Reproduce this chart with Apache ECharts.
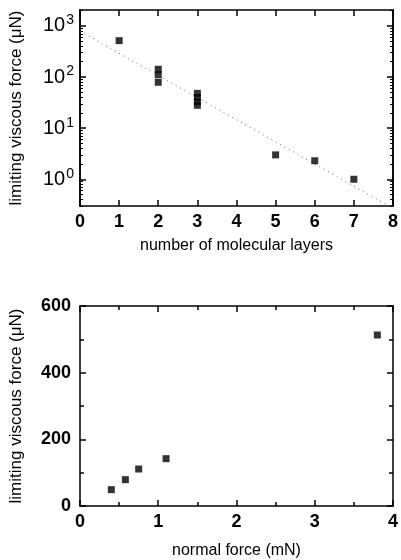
<!DOCTYPE html>
<html>
<head>
<meta charset="utf-8">
<script src="https://cdn.jsdelivr.net/npm/echarts@6/dist/echarts.min.js"></script>
<style>
  html, body { margin: 0; padding: 0; background: #fff; }
  #chart { width: 401px; height: 560px; }
</style>
</head>
<body>
<div id="chart"></div>
<script>
// top panel: viscous force vs number of layers (log scale)
const layerPoints = [
  [1, 515],
  [2, 142], [2, 111], [2, 79],
  [3, 48], [3, 40], [3, 33], [3, 28],
  [5, 3.0],
  [6, 2.3],
  [7, 1.0]
]
const fitLine = [[0, 790], [8, 0.27]]
const layerTicks = [0, 1, 2, 3, 4, 5, 6, 7, 8]
const decadeTicks = [1, 10, 100, 1000]
const logMinorTicks = [
  0.3, 0.4, 0.5, 0.6, 0.7, 0.8, 0.9,
  2, 3, 4, 5, 6, 7, 8, 9,
  20, 30, 40, 50, 60, 70, 80, 90,
  200, 300, 400, 500, 600, 700, 800, 900,
  2000
]

// bottom panel: viscous force vs normal force
const normalForcePoints = [
  [0.4, 49], [0.58, 79], [0.75, 111], [1.1, 142], [3.8, 513]
]

const font = 'Liberation Sans, Arial, sans-serif'
const lineStyle = { color: '#000', width: 1.5 }
const tickLabel = { color: '#000', fontSize: 18, fontWeight: 'bold', fontFamily: font }
const xNameStyle = { color: '#000', fontSize: 16, fontFamily: font }
const yNameStyle = { color: '#000', fontSize: 17, fontFamily: font }

const chart = echarts.init(document.getElementById('chart'))

function sup(v) {
  const e = Math.round(Math.log10(v))
  return '{b|10}{s|' + e + '}'
}

// mirrored axis with ticks only (used for top / right edges and minor ticks)
function plainY(gridIndex, pos, extra) {
  return Object.assign({
    gridIndex, position: pos,
    axisLine: { show: true, onZero: false, lineStyle },
    axisLabel: { show: false },
    splitLine: { show: false }
  }, extra)
}

chart.setOption({
  animation: false,
  grid: [
    { left: 78, right: 5, top: 10, height: 196 },
    { left: 78, right: 5, top: 306, height: 203 }
  ],
  xAxis: [
    {
      gridIndex: 0, type: 'value', min: 0, max: 8, interval: 1, position: 'bottom',
      name: 'number of molecular layers', nameLocation: 'middle', nameGap: 32,
      nameTextStyle: xNameStyle,
      axisLine: { onZero: false, lineStyle },
      axisTick: { inside: true, length: 6, lineStyle },
      axisLabel: Object.assign({ margin: 7, customValues: layerTicks }, tickLabel),
      splitLine: { show: false }
    },
    {
      gridIndex: 0, type: 'value', min: 0, max: 8, interval: 1, position: 'top',
      axisLine: { onZero: false, lineStyle },
      axisTick: { inside: true, length: 6, lineStyle },
      axisLabel: { show: false },
      splitLine: { show: false }
    },
    {
      gridIndex: 1, type: 'value', min: 0, max: 4, interval: 1, position: 'bottom',
      name: 'normal force (mN)', nameLocation: 'middle', nameGap: 37,
      nameTextStyle: xNameStyle,
      axisLine: { onZero: false, lineStyle },
      axisTick: { inside: true, length: 6, lineStyle },
      minorTick: { show: true, splitNumber: 2, length: 4, lineStyle },
      axisLabel: Object.assign({ margin: 7 }, tickLabel),
      splitLine: { show: false }
    },
    {
      gridIndex: 1, type: 'value', min: 0, max: 4, interval: 1, position: 'top',
      axisLine: { onZero: false, lineStyle },
      axisTick: { inside: true, length: 6, lineStyle },
      minorTick: { show: true, splitNumber: 2, length: 4, lineStyle },
      axisLabel: { show: false },
      splitLine: { show: false }
    }
  ],
  yAxis: [
    {
      gridIndex: 0, type: 'log', logBase: 10, min: 0.3, max: 2050, position: 'left',
      name: 'limiting viscous force (\u03bcN)', nameLocation: 'middle', nameGap: 55,
      nameRotate: 90, nameTextStyle: yNameStyle,
      axisLine: { onZero: false, lineStyle },
      axisTick: { inside: true, length: 6, lineStyle, customValues: decadeTicks },
      axisLabel: {
        margin: 6, customValues: decadeTicks, formatter: sup,
        rich: {
          b: { color: '#000', fontSize: 20, fontFamily: font },
          s: { color: '#000', fontSize: 14, fontFamily: font, padding: [0, 0, 11, 1] }
        }
      },
      splitLine: { show: false }
    },
    plainY(0, 'right', {
      type: 'log', logBase: 10, min: 0.3, max: 2050,
      axisTick: { inside: true, length: 6, lineStyle, customValues: decadeTicks }
    }),
    plainY(0, 'left', {
      type: 'log', logBase: 10, min: 0.3, max: 2050,
      axisTick: { inside: true, length: 3, lineStyle: { color: '#000', width: 1 }, customValues: logMinorTicks }
    }),
    plainY(0, 'right', {
      type: 'log', logBase: 10, min: 0.3, max: 2050,
      axisTick: { inside: true, length: 3, lineStyle: { color: '#000', width: 1 }, customValues: logMinorTicks }
    }),
    {
      gridIndex: 1, type: 'value', min: 0, max: 600, interval: 200, position: 'left',
      name: 'limiting viscous force (\u03bcN)', nameLocation: 'middle', nameGap: 55,
      nameRotate: 90, nameTextStyle: yNameStyle,
      axisLine: { onZero: false, lineStyle },
      axisTick: { inside: true, length: 6, lineStyle },
      minorTick: { show: true, splitNumber: 2, length: 4, lineStyle },
      axisLabel: Object.assign({ margin: 9 }, tickLabel),
      splitLine: { show: false }
    },
    plainY(1, 'right', {
      type: 'value', min: 0, max: 600, interval: 200,
      axisTick: { inside: true, length: 6, lineStyle },
      minorTick: { show: true, splitNumber: 2, length: 4, lineStyle }
    })
  ],
  series: [
    {
      type: 'line', xAxisIndex: 0, yAxisIndex: 0, data: fitLine,
      symbol: 'none', silent: true,
      lineStyle: { color: '#666', width: 1, type: [1, 4] }
    },
    {
      type: 'scatter', xAxisIndex: 0, yAxisIndex: 0, data: layerPoints,
      symbol: 'rect', symbolSize: 7, itemStyle: { color: '#000' }
    },
    {
      type: 'scatter', xAxisIndex: 2, yAxisIndex: 4, data: normalForcePoints,
      symbol: 'rect', symbolSize: 7, itemStyle: { color: '#000' }
    }
  ]
})
</script>
</body>
</html>
